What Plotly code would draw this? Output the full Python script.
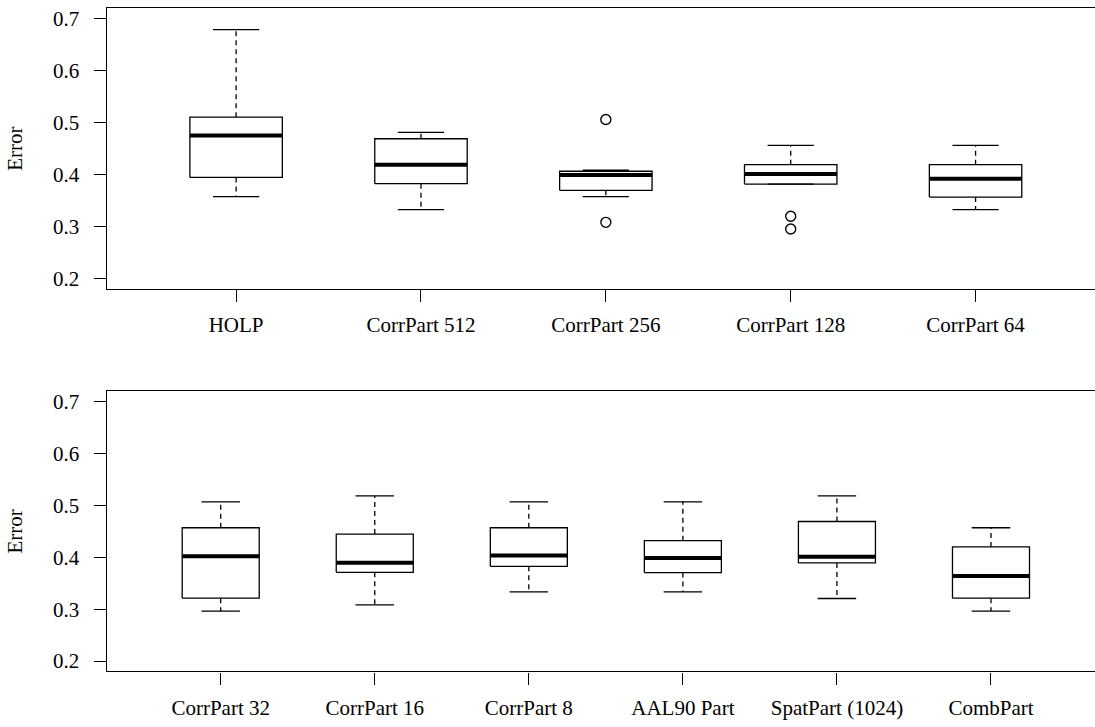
import plotly.graph_objects as go

# ---- data ----
top_labels = ["HOLP", "CorrPart 512", "CorrPart 256", "CorrPart 128", "CorrPart 64"]
top_lower = [0.3577, 0.3328, 0.3577, 0.3820, 0.3328]
top_q1 = [0.3948, 0.3827, 0.3699, 0.3820, 0.3570]
top_median = [0.4754, 0.4192, 0.3993, 0.4012, 0.3923]
top_q3 = [0.5106, 0.4691, 0.4066, 0.4192, 0.4192]
top_upper = [0.6790, 0.4812, 0.4085, 0.4562, 0.4562]
top_outliers = [[], [], [0.5061, 0.3084], [0.3200, 0.2956], []]

bot_labels = ["CorrPart 32", "CorrPart 16", "CorrPart 8", "AAL90 Part", "SpatPart (1024)", "CombPart"]
bot_lower = [0.2962, 0.3084, 0.3334, 0.3334, 0.3205, 0.2962]
bot_q1 = [0.3211, 0.3710, 0.3825, 0.3704, 0.3890, 0.3211]
bot_median = [0.4017, 0.3896, 0.4036, 0.3987, 0.4011, 0.3641]
bot_q3 = [0.4568, 0.4447, 0.4568, 0.4319, 0.4689, 0.4198]
bot_upper = [0.5067, 0.5182, 0.5067, 0.5067, 0.5182, 0.4568]
bot_outliers = [[], [], [], [], [], []]

y_ticks = [0.2, 0.3, 0.4, 0.5, 0.6, 0.7]

# ---- style ----
FONT = "Liberation Serif"
FS = 21
LW = 1.3
HALF_BOX = 0.25
HALF_CAP = 0.125

fig = go.Figure()


def add_panel(labels, lower, q1, med, q3, upper, outliers, xa, ya):
    n = len(labels)
    pos = list(range(1, n + 1))
    wx, wy, cx, cy, bx, by, mx, my, ox, oy = [], [], [], [], [], [], [], [], [], []
    for i, c in enumerate(pos):
        wx += [c, c, None, c, c, None]
        wy += [q3[i], upper[i], None, q1[i], lower[i], None]
        cx += [c - HALF_CAP, c + HALF_CAP, None, c - HALF_CAP, c + HALF_CAP, None]
        cy += [upper[i], upper[i], None, lower[i], lower[i], None]
        bx += [c - HALF_BOX, c + HALF_BOX, c + HALF_BOX, c - HALF_BOX, c - HALF_BOX, None]
        by += [q1[i], q1[i], q3[i], q3[i], q1[i], None]
        mx += [c - HALF_BOX, c + HALF_BOX, None]
        my += [med[i], med[i], None]
        for v in outliers[i]:
            ox.append(c)
            oy.append(v)
    common = dict(xaxis=xa, yaxis=ya, showlegend=False, hoverinfo="skip")
    fig.add_trace(go.Scatter(x=wx, y=wy, mode="lines",
                             line=dict(color="black", width=LW, dash="5px,4px"), **common))
    fig.add_trace(go.Scatter(x=cx, y=cy, mode="lines",
                             line=dict(color="black", width=LW), **common))
    fig.add_trace(go.Scatter(x=bx, y=by, mode="lines",
                             line=dict(color="black", width=LW), **common))
    fig.add_trace(go.Scatter(x=mx, y=my, mode="lines",
                             line=dict(color="black", width=4), **common))
    fig.add_trace(go.Scatter(x=ox, y=oy, mode="markers",
                             marker=dict(symbol="circle-open", size=10, color="black",
                                         line=dict(width=1.4)), **common))
    return pos


W, H = 1095, 727
left_px = 106.7
x0 = left_px / W
visible = 0.99  # fraction of the R plot width that is visible in the cropped picture

pos_top = add_panel(top_labels, top_lower, top_q1, top_median, top_q3, top_upper,
                    top_outliers, "x", "y")
pos_bot = add_panel(bot_labels, bot_lower, bot_q1, bot_median, bot_q3, bot_upper,
                    bot_outliers, "x2", "y2")


def xrange(n):
    lo, hi = 0.5 - 0.04 * n, n + 0.5 + 0.04 * n
    return [lo, lo + (hi - lo) * visible]


xcommon = dict(showgrid=False, zeroline=False, showline=True, mirror=True,
               linecolor="black", linewidth=LW, ticks="outside", ticklen=12,
               tickwidth=LW, tickcolor="black", ticklabelstandoff=5,
               tickfont=dict(family=FONT, size=FS, color="black"))
ycommon = dict(showgrid=False, zeroline=False, showline=True, mirror=False,
               linecolor="black", linewidth=LW, ticks="outside", ticklen=12,
               tickwidth=LW, tickcolor="black", ticklabelstandoff=10,
               tickvals=y_ticks, ticktext=[f"{v:.1f}" for v in y_ticks],
               range=[0.18, 0.72],
               tickfont=dict(family=FONT, size=FS, color="black"),
               title=dict(text="Error", font=dict(family=FONT, size=FS, color="black"),
                          standoff=24))

fig.update_layout(
    width=W, height=H,
    margin=dict(l=0, r=0, t=0, b=0),
    paper_bgcolor="white", plot_bgcolor="white",
    xaxis=dict(domain=[x0, 1], anchor="y", range=xrange(len(top_labels)),
               tickvals=pos_top, ticktext=top_labels, **xcommon),
    yaxis=dict(domain=[1 - 289.3 / H, 1 - 7.3 / H], anchor="x", **ycommon),
    xaxis2=dict(domain=[x0, 1], anchor="y2", range=xrange(len(bot_labels)),
                tickvals=pos_bot, ticktext=bot_labels, **xcommon),
    yaxis2=dict(domain=[1 - 673.2 / H, 1 - 391.8 / H], anchor="x2", **ycommon),
)

fig.write_html("out.html")
